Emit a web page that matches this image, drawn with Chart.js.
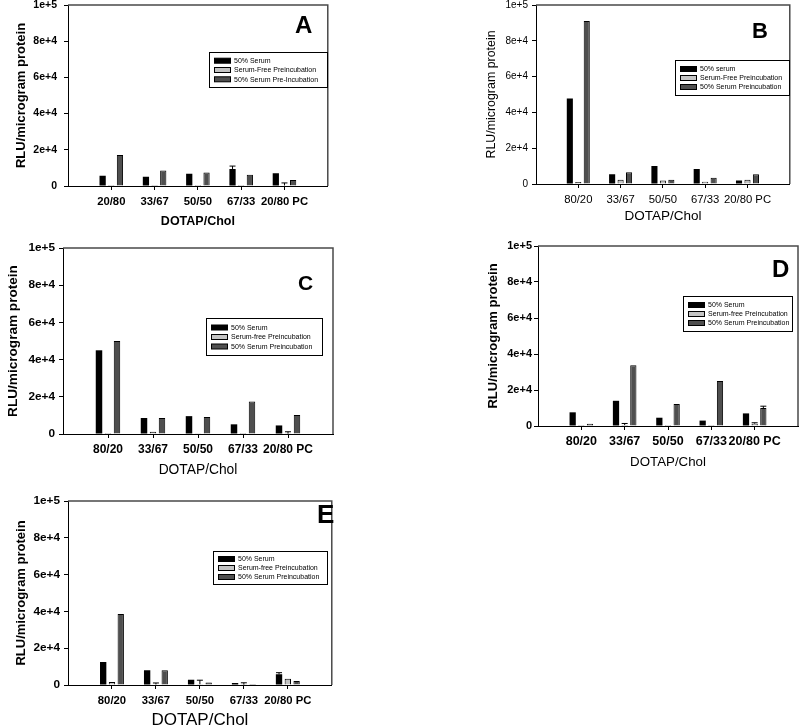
<!DOCTYPE html>
<html><head><meta charset="utf-8">
<script src="https://cdn.jsdelivr.net/npm/chart.js@4.4.0/dist/chart.umd.min.js"></script>
<style>
html,body{margin:0;padding:0;background:#fff;width:800px;height:726px;overflow:hidden;position:relative;}
canvas{position:absolute;}
</style></head><body>
<script>
// ---------- DATA ----------
const categoriesA = ['20/80', '33/67', '50/50', '67/33', '20/80 PC'];
const categoriesOther = ['80/20', '33/67', '50/50', '67/33', '20/80 PC'];
const yTickValues = [0, 20000, 40000, 60000, 80000, 100000];
const xAxisTitle = 'DOTAP/Chol';
const yAxisTitle = 'RLU/microgram protein';

// Panel A
const legendA = ['50% Serum', 'Serum-Free Preincubation', '50% Serum Pre-Incubation'];
const serumA = [5600, 5100, 6800, 9400, 7000];
const serumFreeA = [500, 500, 500, 500, 300];
const serumPreA = [17100, 8500, 7400, 6200, 3300];
const serumErrA = [0, 0, 0, 1600, 0];
const serumFreeErrA = [0, 0, 0, 0, 1400];
const serumPreErrA = [0, 0, 0, 0, 0];

// Panel B
const legendB = ['50% serum', 'Serum-Free Preincubation', '50% Serum Preincubation'];
const serumB = [47800, 5400, 10000, 8400, 1900];
const serumFreeB = [1100, 2400, 1900, 1300, 2400];
const serumPreB = [91000, 6500, 2400, 3500, 5400];
const serumErrB = [0, 0, 0, 0, 0];
const serumFreeErrB = [0, 0, 0, 0, 0];
const serumPreErrB = [0, 0, 0, 0, 0];

// Panel C
const legendC = ['50% Serum', 'Serum-free Preincubation', '50% Serum Preincubation'];
const serumC = [45000, 8600, 9600, 5200, 4600];
const serumFreeC = [500, 1200, 200, 500, 200];
const serumPreC = [50000, 8600, 9100, 17500, 10200];
const serumErrC = [0, 0, 0, 0, 0];
const serumFreeErrC = [0, 0, 0, 0, 1000];
const serumPreErrC = [0, 0, 0, 0, 0];

// Panel D
const legendD = ['50% Serum', 'Serum-free Preincubation', '50% Serum Preincubation'];
const serumD = [7600, 14000, 4600, 3000, 7000];
const serumFreeD = [500, 500, 500, 500, 1300];
const serumPreD = [1300, 33800, 12200, 25000, 10000];
const serumErrD = [0, 0, 0, 0, 0];
const serumFreeErrD = [0, 900, 0, 0, 500];
const serumPreErrD = [0, 0, 0, 0, 1000];

// Panel E
const legendE = ['50% Serum', 'Serum-free Preincubation', '50% Serum Preincubation'];
const serumE = [12500, 8000, 2900, 1100, 5800];
const serumFreeE = [1600, 300, 400, 200, 3400];
const serumPreE = [38600, 8000, 1300, 500, 2200];
const serumErrE = [0, 0, 0, 0, 900];
const serumFreeErrE = [0, 800, 2200, 1000, 0];
const serumPreErrE = [0, 0, 0, 0, 0];

const panels = [
  {id: 'A', categories: categoriesA, legend: legendA,
   values: [serumA, serumFreeA, serumPreA], errors: [serumErrA, serumFreeErrA, serumPreErrA]},
  {id: 'B', categories: categoriesOther, legend: legendB,
   values: [serumB, serumFreeB, serumPreB], errors: [serumErrB, serumFreeErrB, serumPreErrB]},
  {id: 'C', categories: categoriesOther, legend: legendC,
   values: [serumC, serumFreeC, serumPreC], errors: [serumErrC, serumFreeErrC, serumPreErrC]},
  {id: 'D', categories: categoriesOther, legend: legendD,
   values: [serumD, serumFreeD, serumPreD], errors: [serumErrD, serumFreeErrD, serumPreErrD]},
  {id: 'E', categories: categoriesOther, legend: legendE,
   values: [serumE, serumFreeE, serumPreE], errors: [serumErrE, serumFreeErrE, serumPreErrE]}
];

// ---------- STYLE / LAYOUT ----------
const seriesColors = ['#000000', '#c4c4c4', '#4f4f4f'];
const FAMILY = "'Liberation Sans', Arial, sans-serif";
const layouts = {
  A: {L: 68, T: 5, R: 328, B: 186, yTitleX: 21, xTitleY: 222,
      yTick: [10.5, true], xTick: [11.3, true], yTitle: [13, true], xTitle: [12.5, true],
      yTickGap: 7, legendBox: [209, 52, 328, 88], legendGap: 9.3, letter: [295, 33, 24]},
  B: {L: 536, T: 5, R: 790, B: 184, yTitleX: 492, xTitleY: 216,
      yTick: [10, false], xTick: [11.3, false], yTitle: [12.4, false], xTitle: [13.5, false],
      yTickGap: 4, legendBox: [675, 60, 790, 96], legendGap: 9, letter: [752, 38, 22]},
  C: {L: 63, T: 248, R: 333, B: 434, yTitleX: 13.5, xTitleY: 470,
      yTick: [11.8, true], xTick: [12, true], yTitle: [13.6, true], xTitle: [13.8, false],
      yTickGap: 4, legendBox: [206, 318, 323, 356], legendGap: 9.5, letter: [298, 290, 21]},
  D: {L: 538, T: 246, R: 798, B: 426, yTitleX: 493, xTitleY: 462,
      yTick: [11, true], xTick: [12.5, true], yTitle: [13, true], xTitle: [13.3, false],
      yTickGap: 2, legendBox: [683, 296, 793, 332], legendGap: 9, letter: [772, 277, 24]},
  E: {L: 68, T: 501, R: 332, B: 685, yTitleX: 21.5, xTitleY: 720,
      yTick: [11.8, true], xTick: [11.3, true], yTitle: [13, true], xTitle: [17, false],
      yTickGap: 4, legendBox: [213, 551, 328, 585], legendGap: 9, letter: [317, 523, 26]}
};

function font(spec) {
  return {family: FAMILY, size: spec[0], weight: spec[1] ? 'bold' : 'normal', lineHeight: 1.2};
}
function fmtTick(v) {
  if (v === 0) return '0';
  return Number(v).toExponential();
}

const errorBarPlugin = {
  id: 'errorBars',
  afterDatasetsDraw(chart) {
    const ctx = chart.ctx, yScale = chart.scales.y;
    chart.data.datasets.forEach((ds, di) => {
      const meta = chart.getDatasetMeta(di);
      meta.data.forEach((el, i) => {
        const e = ds.errors[i], v = ds.data[i];
        if (!e || v == null) return;
        const yTop = yScale.getPixelForValue(v + e);
        ctx.save();
        ctx.strokeStyle = '#000';
        ctx.lineWidth = 1;
        ctx.beginPath();
        ctx.moveTo(el.x, el.y);
        ctx.lineTo(el.x, yTop);
        ctx.moveTo(el.x - 3, yTop);
        ctx.lineTo(el.x + 3, yTop);
        ctx.stroke();
        ctx.restore();
      });
    });
  }
};

const decorPlugin = {
  id: 'decor',
  afterDraw(chart, args, opts) {
    const ctx = chart.ctx, a = chart.chartArea;
    const lay = opts.lay, offX = opts.offX, offY = opts.offY;
    ctx.save();
    // frame (top and right)
    ctx.strokeStyle = '#4a4a4a';
    ctx.lineWidth = 1.5;
    ctx.beginPath();
    ctx.moveTo(a.left, a.top);
    ctx.lineTo(a.right, a.top);
    ctx.lineTo(a.right, a.bottom);
    ctx.stroke();
    // legend
    const [x0, y0, x1, y1] = lay.legendBox.map((v, k) => v - (k % 2 === 0 ? offX : offY));
    ctx.fillStyle = '#fff';
    ctx.fillRect(x0, y0, x1 - x0, y1 - y0);
    ctx.strokeStyle = '#000';
    ctx.lineWidth = 1;
    ctx.strokeRect(x0 + 0.5, y0 + 0.5, x1 - x0 - 1, y1 - y0 - 1);
    const midY = (y0 + y1) / 2;
    ctx.font = '7px ' + FAMILY;
    ctx.textBaseline = 'middle';
    ctx.textAlign = 'left';
    chart.data.datasets.forEach((ds, k) => {
      const ry = midY + (k - 1) * lay.legendGap;
      ctx.fillStyle = ds.backgroundColor;
      ctx.fillRect(x0 + 5, ry - 2.5, 17, 5);
      ctx.strokeStyle = '#000';
      ctx.strokeRect(x0 + 5.5, ry - 2.5, 16, 5);
      ctx.fillStyle = '#000';
      ctx.fillText(ds.label, x0 + 25, ry + 0.5);
    });
    // panel letter
    ctx.font = 'bold ' + lay.letter[2] + 'px ' + FAMILY;
    ctx.textBaseline = 'alphabetic';
    ctx.fillStyle = '#000';
    ctx.fillText(opts.letterText, lay.letter[0] - offX, lay.letter[1] - offY);
    ctx.restore();
  }
};

const PADL = 70, PADT = 15, PADR = 5, XH = 46;

panels.forEach(p => {
  const lay = layouts[p.id];
  const cw = lay.R - lay.L + PADL + PADR;
  const ch = lay.B - lay.T + PADT + XH;
  const left = lay.L - PADL, top = lay.T - PADT;
  const cv = document.createElement('canvas');
  cv.width = cw; cv.height = ch;
  cv.style.left = left + 'px'; cv.style.top = top + 'px';
  cv.style.width = cw + 'px'; cv.style.height = ch + 'px';
  document.body.appendChild(cv);

  const labels = [''].concat(p.categories, ['']);
  const datasets = p.values.map((vals, k) => ({
    label: p.legend[k],
    data: [null].concat(vals, [null]),
    errors: [0].concat(p.errors[k], [0]),
    backgroundColor: seriesColors[k],
    borderColor: '#000',
    borderWidth: k === 0 ? 0 : 1,
    categoryPercentage: 0.6,
    barPercentage: 0.72
  }));

  const yTF = font(lay.yTitle), xTF = font(lay.xTitle), xTickF = font(lay.xTick);
  const yTitlePad = lay.yTitleX - left - yTF.size * 1.2 / 2;
  const xTitlePad = (lay.B + XH) - lay.xTitleY - xTF.size * 1.2 / 2;
  const xTickPad = 16 - 4 - xTickF.size * 1.2 / 2;

  new Chart(cv, {
    type: 'bar',
    data: {labels, datasets},
    options: {
      responsive: false,
      animation: false,
      devicePixelRatio: 1,
      layout: {padding: {left: 0, top: PADT, right: PADR, bottom: 0}},
      plugins: {
        legend: {display: false},
        tooltip: {enabled: false},
        decor: {lay, offX: left, offY: top, letterText: p.id}
      },
      scales: {
        x: {
          type: 'category',
          offset: false,
          afterFit: s => { s.height = XH; },
          grid: {
            display: true, offset: false, drawOnChartArea: false, drawTicks: true, tickLength: 4,
            color: c => (c.index === 0 || c.index === labels.length - 1) ? 'rgba(0,0,0,0)' : '#000'
          },
          border: {display: true, color: '#000', width: 1},
          ticks: {color: '#000', font: xTickF, padding: xTickPad, maxRotation: 0, autoSkip: false},
          title: {display: true, text: xAxisTitle, color: '#000', font: xTF,
                  padding: {top: 0, bottom: xTitlePad}}
        },
        y: {
          min: 0, max: 100000,
          afterFit: s => { s.width = PADL; },
          afterBuildTicks: s => { s.ticks = yTickValues.map(v => ({value: v})); },
          grid: {display: true, drawOnChartArea: false, drawTicks: true, tickLength: 4, color: '#000'},
          border: {display: true, color: '#000', width: 1},
          ticks: {color: '#000', font: font(lay.yTick), padding: lay.yTickGap, callback: v => fmtTick(v)},
          title: {display: true, text: yAxisTitle, color: '#000', font: yTF,
                  padding: {top: yTitlePad, bottom: 0}}
        }
      }
    },
    plugins: [errorBarPlugin, decorPlugin]
  });
});
</script>
</body></html>
